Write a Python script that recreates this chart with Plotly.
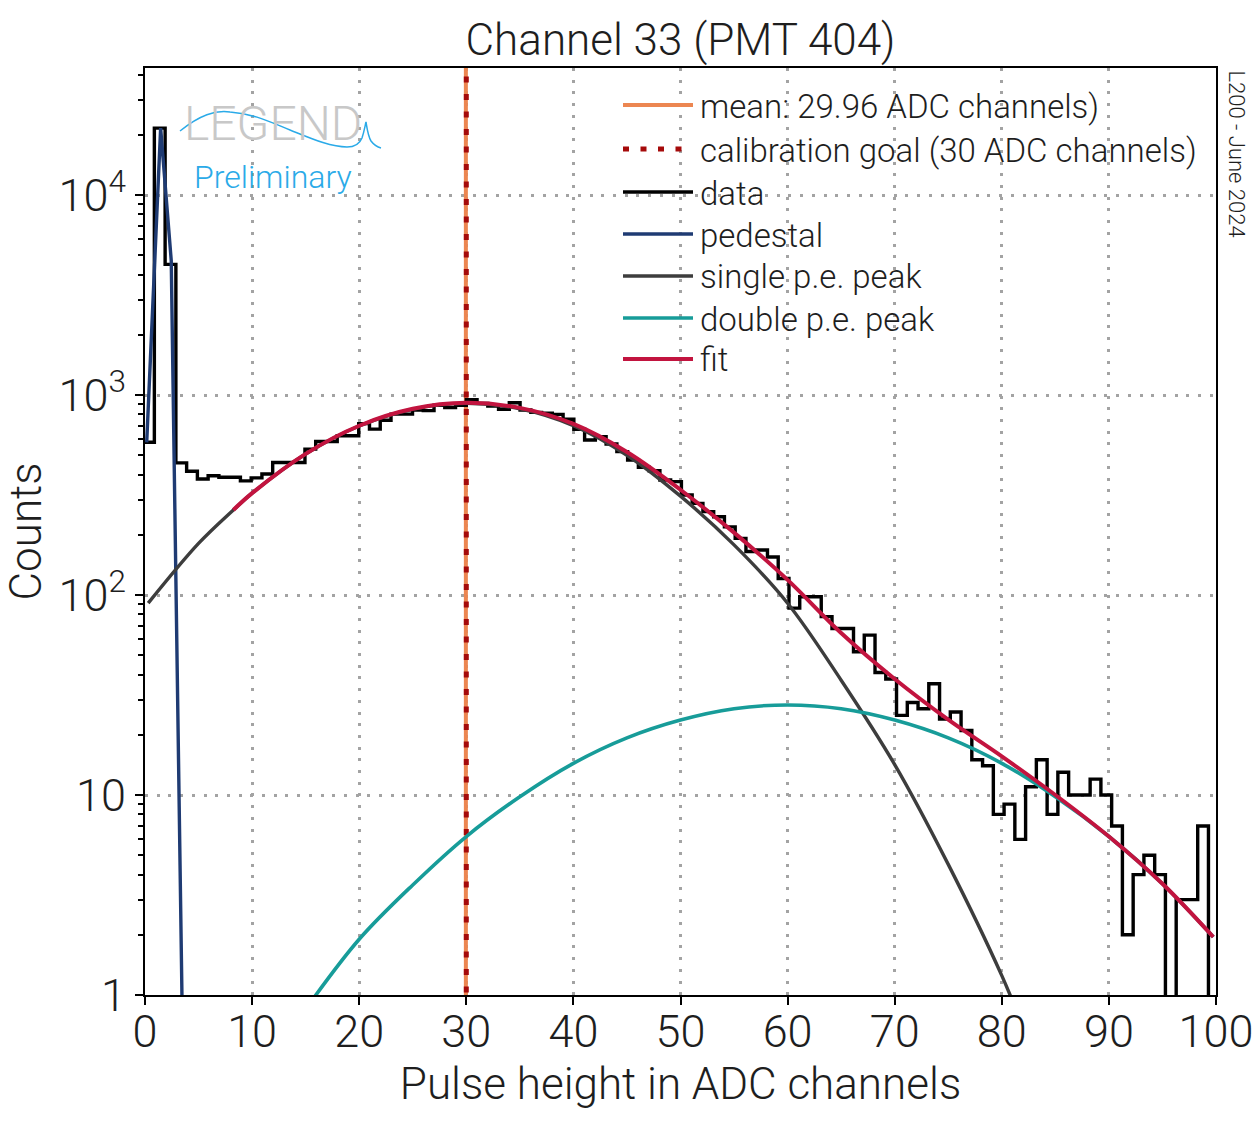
import plotly.graph_objects as go

# ---------------- data ----------------
bin_start = -0.13
bin_width = 1.0043
counts = [580, 21600, 4500, 458, 416, 380, 395, 388, 388, 372,
          385, 403, 460, 460, 460, 536, 585, 585, 625, 625,
          719, 675, 748, 802, 802, 840, 835, 888, 865, 888,
          948, 908, 881, 848, 915, 841, 819, 810, 800, 756,
          674, 596, 619, 569, 521, 473, 435, 418, 376, 369,
          316, 287, 261, 246, 219, 192, 165, 168, 155, 121,
          86, 98, 98, 78, 68, 68, 52, 63, 41, 38,
          25, 29, 27, 36, 24, 26, 21, 15, 14, 8,
          9, 6, 11, 15, 8, 13, 10, 10, 12, 10,
          7, 2, 4, 5, 4, 0, 3, 3, 7, 0]

ped_x = [0.16, 1.46, 2.45, 3.45, 4.45]
ped_y = [580, 21600, 4700, 1.0, 0.0001]

single_x = [0.3, 5, 8.25, 10, 15, 20, 25, 30, 35, 40, 45, 50, 55, 60, 65, 70, 75, 80, 81.5]
single_y = [91, 181, 266, 323, 507, 700, 849, 908, 853, 703, 500, 312, 178, 91, 37.5, 14.2, 4.5, 1.25, 0.8]

double_x = [15.0, 20, 25, 30, 35, 40, 45, 50, 55, 60, 65, 70, 75, 80, 85, 90, 95, 99.75]
double_y = [0.85, 1.9, 3.55, 6.2, 9.8, 14.4, 19.3, 23.7, 27.0, 28.2, 27.0, 23.7, 19.3, 14.4, 9.8, 6.2, 3.6, 1.95]

fit_x = [8.25, 10, 15, 20, 25, 30, 35, 40, 45, 50, 55, 60, 65, 70, 75, 80, 85, 90, 95, 99.75]
fit_y = [266, 323, 508, 702, 853, 914, 862, 717, 519, 336, 205, 119, 64.5, 38, 23.8, 15.6, 10, 6.2, 3.6, 1.95]

mean_value = 29.96
goal_value = 30

x_ticks = [0, 10, 20, 30, 40, 50, 60, 70, 80, 90, 100]
y_tickvals = [1, 10, 100, 1000, 10000]
y_ticktext = ["1", "10", "10<sup>2</sup>", "10<sup>3</sup>", "10<sup>4</sup>"]

legend_names = ["mean: 29.96 ADC channels)", "calibration goal (30 ADC channels)", "data",
                "pedestal", "single p.e. peak", "double p.e. peak", "fit"]

# ---------------- styling ----------------
FONT = "Roboto, 'Open Sans', sans-serif"
TXT = "#1e1e1e"
W, H = 1257, 1125
L, R, T, B = 145, 41, 68, 130

C_MEAN, C_GOAL, C_DATA = "#ec8651", "#a50a0a", "#000000"
C_PED, C_SINGLE, C_DOUBLE, C_FIT = "#1f3b73", "#3d3d3d", "#179c99", "#c2143f"
GOAL_DASH = "6px,11.5px"

edges = [bin_start + bin_width * k for k in range(len(counts) + 1)]
hist_y = [c if c > 0 else 1e-3 for c in counts] + [counts[-1] if counts[-1] > 0 else 1e-3]

fig = go.Figure()
fig.add_trace(go.Scatter(x=[mean_value, mean_value], y=[1e-2, 1e6], mode="lines",
                         line=dict(color=C_MEAN, width=4), name=legend_names[0]))
fig.add_trace(go.Scatter(x=[goal_value, goal_value], y=[1e-2, 1e6], mode="lines",
                         line=dict(color=C_GOAL, width=5, dash=GOAL_DASH), name=legend_names[1]))
fig.add_trace(go.Scatter(x=edges, y=hist_y, mode="lines", line_shape="hv",
                         line=dict(color=C_DATA, width=3.4), name=legend_names[2]))
fig.add_trace(go.Scatter(x=ped_x, y=ped_y, mode="lines",
                         line=dict(color=C_PED, width=3.4), name=legend_names[3]))
fig.add_trace(go.Scatter(x=single_x, y=single_y, mode="lines", line_shape="spline",
                         line=dict(color=C_SINGLE, width=3.4), name=legend_names[4]))
fig.add_trace(go.Scatter(x=double_x, y=double_y, mode="lines", line_shape="spline",
                         line=dict(color=C_DOUBLE, width=3.6), name=legend_names[5]))
fig.add_trace(go.Scatter(x=fit_x, y=fit_y, mode="lines", line_shape="spline",
                         line=dict(color=C_FIT, width=4), name=legend_names[6]))

grid = dict(showgrid=True, gridcolor="#a3a3a3", gridwidth=3, griddash="3px,8.7px")

fig.update_layout(
    width=W, height=H,
    margin=dict(l=L, r=R, t=T, b=B, autoexpand=False),
    paper_bgcolor="white", plot_bgcolor="white",
    font=dict(family=FONT, color=TXT, weight=300),
    showlegend=False,
    title=dict(text="Channel 33 (PMT 404)", x=0.5, xref="paper", xanchor="center",
               y=1 - 40 / H, yref="container", yanchor="middle",
               font=dict(size=44, family=FONT, color=TXT, weight=300)),
    xaxis=dict(range=[0, 100], tickvals=x_ticks, ticks="outside", ticklen=8, tickwidth=2,
               tickcolor="black", showline=True, linewidth=2, linecolor="black", mirror=True,
               zeroline=False, automargin=False, ticklabelstandoff=-12,
               tickfont=dict(size=45, family=FONT, color=TXT, weight=300),
               title=dict(text="Pulse height in ADC channels", standoff=2,
                          font=dict(size=44, family=FONT, color=TXT, weight=300)),
               **grid),
    yaxis=dict(type="log", range=[0, 4.635], tickvals=y_tickvals, ticktext=y_ticktext,
               ticks="outside", ticklen=8, tickwidth=2, tickcolor="black",
               minor=dict(ticks="outside", ticklen=5, tickwidth=1.5, tickcolor="black",
                          dtick="D1", showgrid=False),
               showline=True, linewidth=2, linecolor="black", mirror=True, zeroline=False,
               automargin=False,
               tickfont=dict(size=45, family=FONT, color=TXT, weight=300),
               title=dict(text="Counts", standoff=6,
                          font=dict(size=44, family=FONT, color=TXT, weight=300)),
               **grid),
)

def px2paper(px, py):
    return (px - L) / (W - L - R), (995 - py) / (995 - T)

# ---- legend drawn inside the axes (transparent, like the reference) ----
leg_styles = [dict(color=C_MEAN, width=4), dict(color=C_GOAL, width=5, dash=GOAL_DASH),
              dict(color=C_DATA, width=3.4), dict(color=C_PED, width=3.4),
              dict(color=C_SINGLE, width=3.4), dict(color=C_DOUBLE, width=3.6),
              dict(color=C_FIT, width=4)]
leg_y = [105, 149, 192, 234, 276, 318, 359]
for name, st, yy in zip(legend_names, leg_styles, leg_y):
    x0, y0 = px2paper(623, yy)
    x1, _ = px2paper(693, yy)
    fig.add_shape(type="line", x0=x0, x1=x1, y0=y0, y1=y0, xref="paper", yref="paper",
                  line=st, layer="above")
    tx, ty = px2paper(698, yy + 1)
    fig.add_annotation(text=name, x=tx, y=ty, xref="paper", yref="paper", showarrow=False,
                       xanchor="left", yanchor="middle",
                       font=dict(size=33, family=FONT, color=TXT, weight=300))

# ---- LEGEND Preliminary logo (decoration) ----
lx, ly = px2paper(273, 123)
fig.add_annotation(text="LEGEND", x=lx, y=ly, xref="paper", yref="paper", showarrow=False,
                   xanchor="center", yanchor="middle",
                   font=dict(size=48, color="#c8c8c8", family=FONT, weight=300))
px_, py_ = px2paper(273, 177)
fig.add_annotation(text="Preliminary", x=px_, y=py_, xref="paper", yref="paper", showarrow=False,
                   xanchor="center", yanchor="middle",
                   font=dict(size=32, color="#2aaae8", family=FONT, weight=300))
wave = [("M", [(180, 131)]),
        ("C", [(200, 115), (215, 110), (230, 112)]),
        ("C", [(255, 114), (270, 122), (290, 130)]),
        ("C", [(310, 138), (330, 147), (347, 147)]),
        ("C", [(355, 147), (360, 143), (362, 138)]),
        ("C", [(364, 132), (365, 126), (366, 122)]),
        ("C", [(367, 128), (368, 136), (371, 141)]),
        ("C", [(374, 145), (377, 147), (381, 148)])]
path = ""
for cmd, pts in wave:
    path += cmd + " " + " ".join("%.5f,%.5f" % px2paper(a, b) for a, b in pts) + " "
fig.add_shape(type="path", path=path.strip(), xref="paper", yref="paper",
              line=dict(color="#2aaae8", width=1.5), layer="above")

# ---- side label ----
sx, sy = px2paper(1236, 68)
fig.add_annotation(text="L200 - June 2024", x=sx, y=sy, xref="paper", yref="paper",
                   showarrow=False, textangle=90, xanchor="center", yanchor="top",
                   font=dict(size=22, color=TXT, family=FONT, weight=300))

fig.write_html("out.html", config={"displayModeBar": False},
               post_script="document.body.style.margin='0';")
